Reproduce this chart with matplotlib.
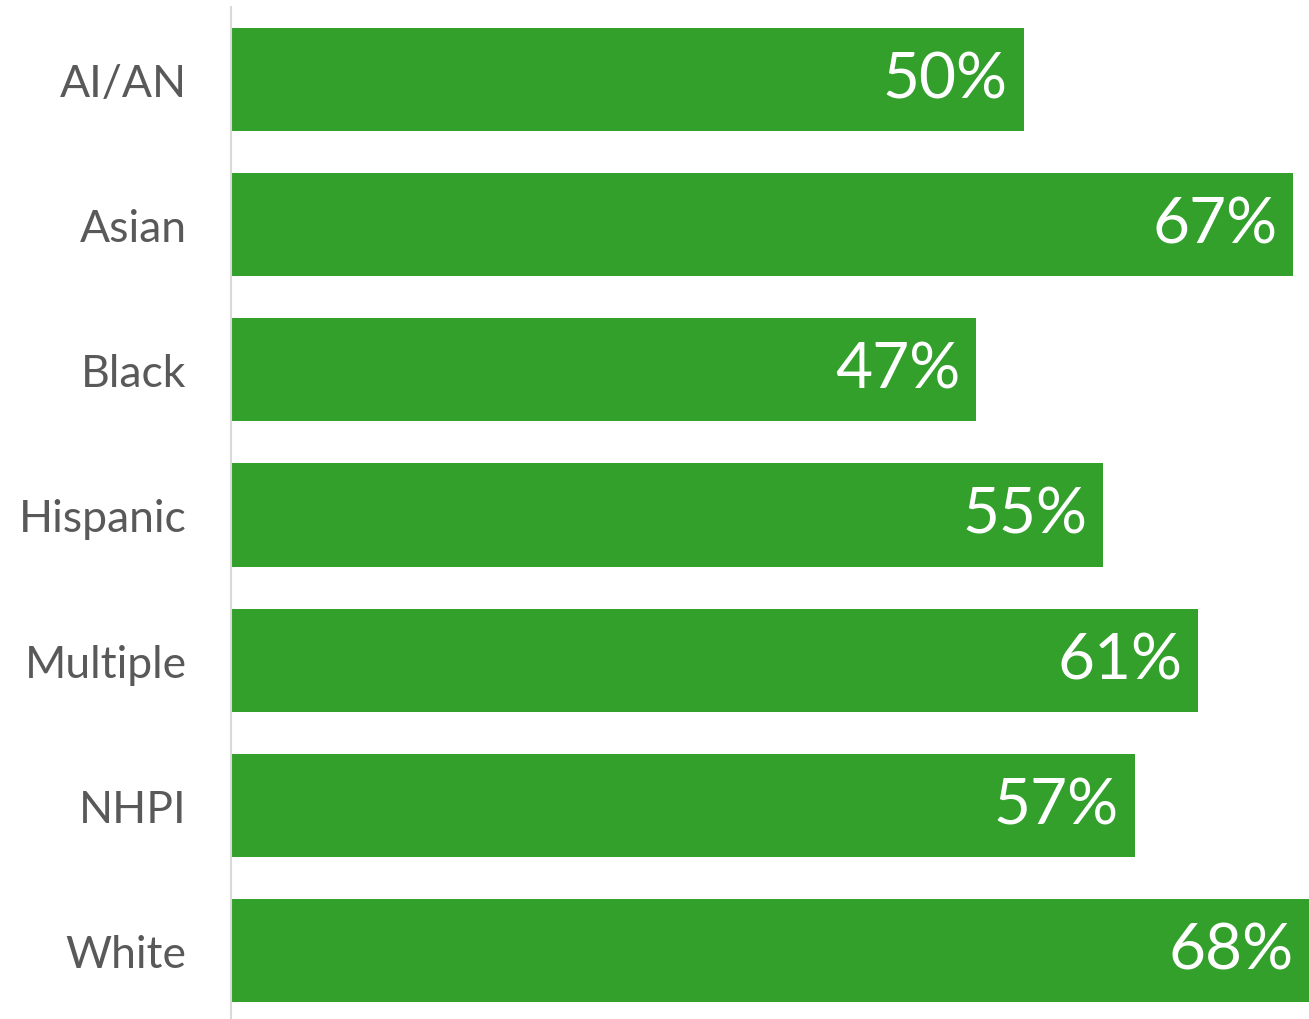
import matplotlib
matplotlib.use("Agg")
import matplotlib.pyplot as plt

groups = ["AI/AN", "Asian", "Black", "Hispanic", "Multiple", "NHPI", "White"]
values = [50, 67, 47, 55, 61, 57, 68]
labels = ["50%", "67%", "47%", "55%", "61%", "57%", "68%"]

plt.rcParams["font.family"] = ["Lato", "DejaVu Sans"]

fig = plt.figure(figsize=(13.09, 10.2), dpi=100)
ax = fig.add_axes([231 / 1309, -4 / 1020, 1 - 231 / 1309, 1016 / 1020])

y = list(range(len(groups)))
bars = ax.barh(y, values, height=0.71, color="#33a02c")

for b, txt in zip(bars, labels):
    ax.text(b.get_width() - 1.0, b.get_y() + b.get_height() / 2, txt,
            ha="right", va="center", color="white", fontsize=46)

ax.set_yticks(y)
ax.set_yticklabels(groups, fontsize=32, color="#595959")
ax.tick_params(axis="y", length=0, pad=32)
ax.set_xticks([])
ax.set_xlim(0, 68)
ax.set_ylim(6.5, -0.5)

for s in ["top", "right", "bottom"]:
    ax.spines[s].set_visible(False)
ax.spines["left"].set_color("#d9d9d9")
ax.spines["left"].set_linewidth(1.5)

fig.savefig("out.png", dpi=100)
